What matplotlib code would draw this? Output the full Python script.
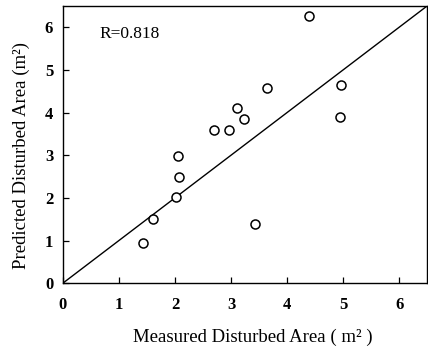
import matplotlib
matplotlib.use("Agg")
from matplotlib import pyplot as plt

# measured vs predicted disturbed area (m^2)
measured = [1.43, 1.60, 2.01, 2.08, 2.06, 2.69, 2.97, 3.11, 3.24, 3.42, 3.65, 4.40, 4.96, 4.95]
predicted = [0.95, 1.51, 2.02, 2.48, 2.97, 3.58, 3.58, 4.11, 3.86, 1.39, 4.57, 6.26, 4.65, 3.90]

# 1:1 line
line_x = [0, 6.5]
line_y = [0, 6.5]

ticks = [0, 1, 2, 3, 4, 5, 6]
r_text = "R=0.818"

plt.rcParams['font.family'] = ['Liberation Serif', 'DejaVu Serif']

fig = plt.figure(figsize=(4.28, 3.5), dpi=100)
ax = fig.add_axes([0.147, 0.191, 0.851, 0.792])

ax.plot(line_x, line_y, color='black', lw=1.0)
ax.plot(measured, predicted, 'o', mfc='white', mec='black', mew=1.1, ms=6.5)

ax.set_xlim(0, 6.5)
ax.set_ylim(0, 6.5)
ax.set_xticks(ticks)
ax.set_yticks(ticks)
ax.tick_params(direction='in', length=4, width=0.9, labelsize=12)
ax.tick_params(axis='x', pad=10)
ax.tick_params(axis='y', pad=7)
for lab in ax.get_xticklabels() + ax.get_yticklabels():
    lab.set_fontweight('bold')

for sp in ax.spines.values():
    sp.set_linewidth(1.0)

ax.text(0.66, 5.85, r_text, fontsize=12.5, va='center', ha='left')

ax.set_xlabel("Measured Disturbed Area ( m² )", fontsize=13.5)
ax.set_ylabel("Predicted Disturbed Area (m²)", fontsize=13.5)
ax.xaxis.set_label_coords(0.52, -0.165)
ax.yaxis.set_label_coords(-0.09, 0.46)

fig.savefig("out.png", dpi=100)
